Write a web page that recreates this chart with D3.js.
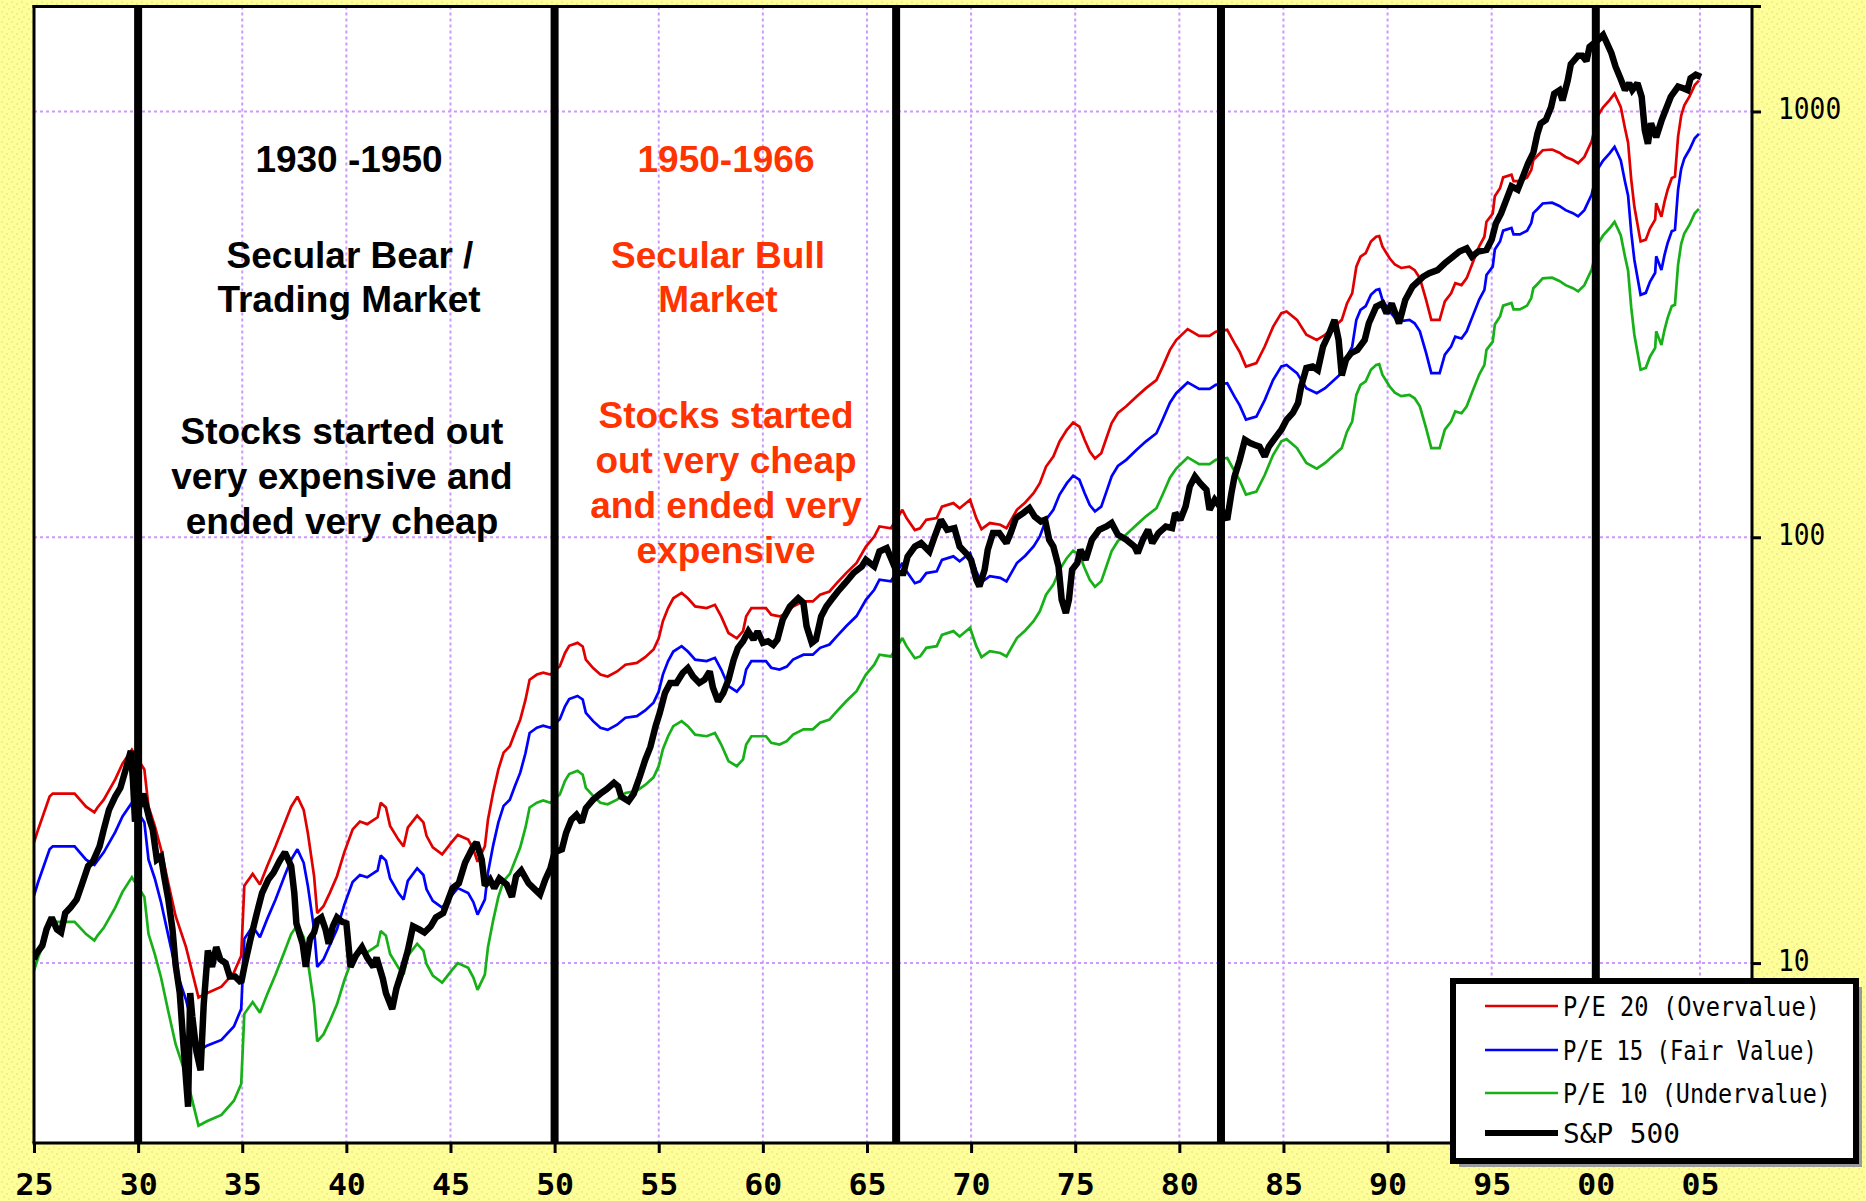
<!DOCTYPE html>
<html><head><meta charset="utf-8">
<script src="https://cdn.jsdelivr.net/npm/d3@7"></script>
<style>html,body{margin:0;padding:0;background:#FFFF99;} svg{display:block}</style>
</head><body>
<svg id="chart" width="1866" height="1201"></svg>
<script>
// ---------------- DATA ----------------
const peYears = [1925.0,1925.2,1925.75,1925.9,1926.95,1927.5,1927.9,1928.05,1928.35,1928.9,1929.25,1929.7,1930.3,1930.5,1930.8,1931.1,1931.45,1931.8,1932.3,1932.65,1932.9,1933.3,1934.0,1934.6,1934.95,1935.1,1935.5,1935.85,1936.2,1936.6,1937.05,1937.35,1937.65,1937.95,1938.15,1938.45,1938.6,1938.9,1939.2,1939.55,1939.9,1940.3,1940.65,1941.0,1941.5,1941.65,1941.9,1942.1,1942.5,1942.75,1942.95,1943.4,1943.7,1943.85,1944.15,1944.6,1945.05,1945.35,1945.85,1946.1,1946.3,1946.65,1946.8,1947.05,1947.3,1947.55,1947.85,1948.1,1948.35,1948.6,1948.8,1949.15,1949.45,1949.8,1950.25,1950.5,1950.7,1951.1,1951.35,1951.5,1951.85,1952.2,1952.55,1953.0,1953.4,1953.95,1954.35,1954.75,1955.0,1955.2,1955.45,1955.7,1956.1,1956.4,1956.75,1957.3,1957.7,1958.0,1958.35,1958.75,1959.05,1959.2,1959.45,1960.15,1960.4,1960.8,1961.15,1961.45,1961.95,1962.4,1962.75,1963.2,1963.55,1964.0,1964.5,1964.95,1965.35,1965.6,1966.15,1966.7,1966.9,1967.3,1967.55,1967.85,1968.35,1968.6,1969.15,1969.45,1969.95,1970.25,1970.5,1970.9,1971.4,1971.7,1972.2,1972.6,1973.0,1973.3,1973.6,1973.95,1974.25,1974.6,1974.9,1975.2,1975.45,1975.7,1975.95,1976.25,1976.5,1976.75,1977.05,1977.45,1977.95,1978.4,1978.9,1979.2,1979.55,1979.85,1980.4,1980.95,1981.45,1981.75,1982.3,1982.65,1982.9,1983.2,1983.7,1984.1,1984.5,1984.9,1985.15,1985.65,1986.1,1986.6,1987.0,1987.8,1988.05,1988.3,1988.5,1988.7,1988.95,1989.2,1989.45,1989.6,1989.75,1990.1,1990.35,1990.65,1991.05,1991.3,1991.55,1991.85,1992.1,1992.5,1992.75,1993.05,1993.25,1993.55,1993.8,1993.95,1994.1,1994.4,1994.65,1994.75,1995.05,1995.15,1995.4,1995.55,1995.95,1996.05,1996.35,1996.7,1996.9,1997.0,1997.2,1997.45,1997.9,1998.25,1998.55,1998.9,1999.15,1999.45,1999.8,2000.1,2000.35,2000.65,2000.9,2001.05,2001.2,2001.4,2001.55,2001.7,2001.85,2002.05,2002.15,2002.4,2002.6,2002.85,2002.9,2003.15,2003.3,2003.45,2003.65,2003.8,2003.95,2004.1,2004.25,2004.5,2004.75,2004.95];

const pe20 = [19.2,20.6,24.6,25.0,25.0,23.3,22.6,23.2,24.2,27.0,29.4,31.7,28.5,23.3,21.0,18.5,15.4,12.9,10.9,9.3,8.3,8.5,8.8,9.5,10.4,15.2,16.2,15.3,16.9,18.8,21.4,23.3,24.6,22.9,20.2,16.0,13.1,13.6,14.6,16.0,18.2,20.6,21.5,21.2,22.0,23.8,23.2,21.0,19.5,18.8,20.8,22.2,21.4,19.9,18.7,18.0,19.2,20.0,19.5,18.5,17.3,18.8,21.7,25.2,28.5,31.2,32.3,34.8,37.3,41.5,46.3,47.6,48.1,47.6,49.8,53.5,55.6,56.5,55.4,51.6,49.3,47.6,47.1,48.4,50.2,50.7,52.3,54.5,57.9,63.5,68.2,71.9,74.0,71.9,68.8,68.2,69.4,65.2,59.6,57.9,60.2,65.2,68.2,68.2,65.8,65.2,66.3,68.8,70.7,70.7,73.3,74.6,78.0,82.4,87.0,95.1,100.4,106,105,116,110.9,104,105,109.9,110.9,118,120.3,117,122.5,110.9,104.5,108,107,105,116,120.7,126.9,134,146.6,154.8,167.9,178.8,186,182,169.4,159,153,157.6,171,185.5,195.9,203,214,224,234,251.7,275.5,290.6,308.2,297,297,304,307,285.7,272.4,251.7,256.4,280.5,312,336,339,324,298.9,290.6,298.9,324,354,374,432,456,465,495,508,510,482,452,437,429,432,424,406,361,324,324,358,374,395,391,406,424,443,482,508,551,576,632,660,700,710,686,686,700,729,769,787,811,814,800,782,769,756,782,851,978,1023,1062,1101,1062,1023,913,845,693,598,527,495,500,531,557,609,566,614,655,698,703,873,978,1034,1085,1153,1181];

const pe15 = [14.4,15.5,18.5,18.8,18.8,17.5,17.0,17.4,18.2,20.3,22.1,23.8,21.4,17.5,15.8,13.9,11.6,9.7,8.2,7.0,6.2,6.4,6.6,7.1,7.8,11.4,12.2,11.5,12.7,14.1,16.1,17.5,18.5,17.2,15.2,12.0,9.8,10.2,11.0,12.0,13.7,15.5,16.1,15.9,16.5,17.9,17.4,15.8,14.6,14.1,15.6,16.7,16.1,14.9,14.0,13.5,14.4,15.0,14.6,13.9,13.0,14.1,16.3,18.9,21.4,23.4,24.2,26.1,28.0,31.1,34.7,35.7,36.1,35.7,37.4,40.1,41.7,42.4,41.6,38.7,37.0,35.7,35.3,36.3,37.7,38.0,39.2,40.9,43.4,47.6,51.2,53.9,55.5,53.9,51.6,51.2,52.1,48.9,44.7,43.4,45.2,48.9,51.2,51.2,49.4,48.9,49.7,51.6,53.0,53.0,55.0,56.0,58.5,61.8,65.3,71.3,75.3,79.5,78.8,87.0,83.2,78.0,78.8,82.4,83.2,88.5,90.2,87.8,91.9,83.2,78.4,81.0,80.3,78.8,87.0,90.5,95.2,100.5,110,116,126,134,139.5,136.5,127,119,115,118,128,139,147,152,160.5,168,175.5,189,207,218,231,223,223,228,230,214,204,189,192,210,234,252,254,243,224,218,224,243,265.5,280.5,324,342,349,371,381,382.5,361.5,339,328,322,324,318,304.5,271,243,243,268.5,280.5,296,293,304.5,318,332,361.5,381,413,432,474,495,525,532.5,514.5,514.5,525,547,577,590,608,610.5,600,586.5,577,567,586.5,638,733.5,767,796.5,826,796.5,767,685,634,520,448.5,395,371,375,398,418,457,424.5,460.5,491,523.5,527,655,733.5,775.5,814,865,886];

const pe10 = [9.6,10.3,12.3,12.5,12.5,11.7,11.3,11.6,12.1,13.5,14.7,15.9,14.3,11.7,10.5,9.25,7.7,6.45,5.45,4.65,4.15,4.25,4.4,4.75,5.2,7.6,8.1,7.65,8.45,9.4,10.7,11.7,12.3,11.5,10.1,8.0,6.55,6.8,7.3,8.0,9.1,10.3,10.8,10.6,11.0,11.9,11.6,10.5,9.75,9.4,10.4,11.1,10.7,9.95,9.35,9.0,9.6,10.0,9.75,9.25,8.65,9.4,10.9,12.6,14.3,15.6,16.2,17.4,18.7,20.8,23.2,23.8,24.1,23.8,24.9,26.8,27.8,28.3,27.7,25.8,24.7,23.8,23.6,24.2,25.1,25.4,26.2,27.3,29.0,31.8,34.1,36.0,37.0,36.0,34.4,34.1,34.7,32.6,29.8,29.0,30.1,32.6,34.1,34.1,32.9,32.6,33.2,34.4,35.4,35.4,36.7,37.3,39.0,41.2,43.5,47.6,50.2,53.0,52.5,58.0,55.5,52.0,52.5,55.0,55.5,59.0,60.2,58.5,61.3,55.5,52.3,54.0,53.5,52.5,58.0,60.4,63.5,67.0,73.3,77.4,84.0,89.4,93.0,91.0,84.7,79.5,76.5,78.8,85.5,92.8,98.0,101.5,107,112,117,126,138,145,154,148.5,148.5,152,153.5,143,136,126,128,140,156,168,170,162,149.5,145,149.5,162,177,187,216,228,232.5,247.5,254,255,241,226,218.5,214.5,216,212,203,180.5,162,162,179,187,197.5,195.5,203,212,221.5,241,254,275.5,288,316,330,350,355,343,343,350,364.5,384.5,393.5,405.5,407,400,391,384.5,378,391,425.5,489,511.5,531,550.5,531,511.5,456.5,422.5,346.5,299,263.5,247.5,250,265.5,278.5,304.5,283,307,327.5,349,351.5,436.5,489,517,542.5,576.5,590.5];

const spYears = [1925.0,1925.1,1925.4,1925.6,1925.85,1926.1,1926.3,1926.5,1926.75,1927.05,1927.3,1927.6,1927.85,1928.15,1928.35,1928.6,1928.9,1929.15,1929.45,1929.65,1929.75,1929.85,1930.0,1930.25,1930.55,1930.7,1930.9,1931.1,1931.25,1931.45,1931.65,1931.8,1932.0,1932.2,1932.4,1932.5,1932.6,1932.8,1933.0,1933.15,1933.35,1933.55,1933.75,1933.95,1934.2,1934.4,1934.65,1934.95,1935.1,1935.4,1935.7,1935.95,1936.25,1936.5,1936.8,1937.05,1937.35,1937.5,1937.6,1937.9,1938.05,1938.25,1938.45,1938.6,1938.8,1939.0,1939.15,1939.35,1939.55,1939.8,1940.0,1940.2,1940.45,1940.75,1941.0,1941.3,1941.45,1941.75,1941.9,1942.2,1942.4,1942.65,1942.95,1943.2,1943.5,1943.75,1944.05,1944.3,1944.65,1945.1,1945.4,1945.7,1946.1,1946.25,1946.5,1946.65,1946.9,1947.1,1947.35,1947.7,1947.95,1948.15,1948.4,1948.75,1949.05,1949.3,1949.55,1949.8,1950.0,1950.35,1950.55,1950.8,1951.05,1951.3,1951.5,1951.85,1952.2,1952.5,1952.85,1953.05,1953.2,1953.55,1953.8,1954.1,1954.35,1954.6,1954.85,1955.05,1955.3,1955.55,1955.85,1956.15,1956.4,1956.65,1956.95,1957.2,1957.45,1957.6,1957.85,1958.1,1958.35,1958.6,1958.8,1959.05,1959.3,1959.55,1959.75,1960.0,1960.25,1960.5,1960.7,1960.95,1961.3,1961.7,1961.95,1962.1,1962.35,1962.55,1962.8,1963.05,1963.3,1963.6,1963.95,1964.35,1964.75,1964.95,1965.35,1965.6,1965.95,1966.15,1966.45,1966.75,1966.95,1967.3,1967.6,1968.0,1968.25,1968.55,1968.85,1969.2,1969.45,1969.75,1970.0,1970.25,1970.4,1970.65,1970.8,1971.05,1971.35,1971.7,1971.9,1972.15,1972.5,1972.8,1973.05,1973.35,1973.55,1973.75,1973.95,1974.2,1974.35,1974.55,1974.7,1974.85,1975.1,1975.25,1975.5,1975.8,1976.15,1976.5,1976.75,1977.05,1977.45,1977.85,1978.0,1978.25,1978.5,1978.7,1979.0,1979.35,1979.65,1979.8,1980.05,1980.3,1980.5,1980.75,1981.0,1981.3,1981.45,1981.7,1981.95,1982.3,1982.5,1982.65,1982.9,1983.15,1983.4,1983.6,1983.85,1984.1,1984.3,1984.65,1984.9,1985.15,1985.45,1985.7,1985.85,1986.1,1986.4,1986.65,1986.9,1987.2,1987.45,1987.65,1987.8,1988.0,1988.25,1988.55,1988.9,1989.1,1989.45,1989.75,1989.95,1990.2,1990.55,1990.85,1991.2,1991.7,1992.0,1992.4,1992.75,1993.05,1993.45,1993.8,1994.05,1994.35,1994.75,1995.0,1995.2,1995.45,1995.7,1995.95,1996.25,1996.5,1996.75,1997.0,1997.2,1997.35,1997.6,1997.85,1998.0,1998.25,1998.4,1998.65,1998.8,1999.15,1999.35,1999.55,1999.7,2000.1,2000.35,2000.5,2000.75,2000.95,2001.15,2001.4,2001.6,2001.75,2002.0,2002.2,2002.35,2002.5,2002.65,2002.9,2003.15,2003.35,2003.6,2003.95,2004.2,2004.4,2004.55,2004.8,2005.05];

const sp500 = [10.2,10.5,11.0,12.0,12.8,12.0,11.8,13.1,13.5,14.1,15.3,16.9,17.4,18.8,20.6,22.9,24.6,25.8,29.0,31.5,27.0,21.5,22.8,25.0,21.7,20.6,17.5,17.8,16.0,14.1,12.0,9.9,8.5,6.2,4.6,8.5,7.5,6.2,5.6,8.0,10.7,9.8,10.9,10.2,10.0,9.3,9.3,9.0,9.8,11.4,13.1,14.6,15.7,16.3,17.4,18.2,16.9,14.6,12.4,11.1,9.8,11.4,11.8,12.6,12.8,12.0,11.1,12.2,12.8,12.5,12.4,9.8,10.4,10.9,10.3,9.8,10.3,9.2,8.5,7.8,8.7,9.5,10.7,12.2,12.0,11.8,12.2,12.8,13.1,15.0,15.4,17.2,18.8,19.2,17.5,15.2,15.7,15.0,15.8,15.3,14.3,16.0,16.5,15.4,14.9,14.5,15.7,16.7,18.2,18.5,20.2,21.7,22.3,21.4,23.1,24.2,25.0,25.6,26.5,26.0,24.6,24.0,25.0,27.5,30.0,32.2,36.0,38.7,43.1,45.5,45.5,48.0,49.3,47.1,45.5,46.3,48.4,44.4,41.2,43.1,46.3,51.6,54.9,57.0,60.1,57.5,60.1,56.5,57.0,55.9,57.5,64.0,68.8,71.9,70.1,61.8,56.5,57.5,65.2,68.8,71.4,74.6,78.0,82.4,85.4,88.5,85.4,92.6,94.3,89.4,82.4,82.4,90.1,95.1,96.9,92.6,100.4,109.9,104.1,105.1,95.1,91.8,88.5,79.5,76.7,83.9,93.5,102.3,102.3,96.9,102.3,110.9,114.0,117.1,111.9,108.9,109.9,98.7,95.1,85.4,71.4,66.4,71.4,83.9,87.0,93.5,88.5,98.7,104.1,106.0,108.0,101.4,98.7,95.1,91.8,98.7,104.1,96.9,102.3,106.0,105.1,114.0,109.9,118.1,131.6,138.9,134.0,129.3,116.0,122.5,118.1,109.9,126.9,138.9,152,169.4,166.5,164.9,163.3,154.8,163.3,172.3,178.8,188.7,195.9,206.6,226,249.7,251.7,247,280.5,301.3,324,290.6,240,261,270.9,275.5,290.6,318.2,348,354,336,354,318,361,388,409,417,424,440,452,469,477,456,469,473,500,546,576,620,667,655,703,756,800,888,937,955,1023,1101,1121,1062,1182,1291,1352,1352,1313,1419,1472,1512,1458,1370,1274,1207,1123,1165,1123,1165,1083,905,840,938,870,950,1008,1083,1144,1134,1123,1197,1220,1205];

const eraYears = [1930, 1950, 1966.4, 1982, 2000];
const xTickYears = [1925,1930,1935,1940,1945,1950,1955,1960,1965,1970,1975,1980,1985,1990,1995,2000,2005];
const xTickLabels = ["25","30","35","40","45","50","55","60","65","70","75","80","85","90","95","00","05"];
const yTickValues = [10, 100, 1000];
const yTickLabels = ["10", "100", "1000"];
const legendLabels = ["P/E 20 (Overvalue)", "P/E 15 (Fair Value)", "P/E 10 (Undervalue)", "S&P 500"];
const blackNotes = ["1930 -1950", "Secular Bear /", "Trading Market", "Stocks started out", "very expensive and", "ended very cheap"];
const redNotes = ["1950-1966", "Secular Bull", "Market", "Stocks started", "out very cheap", "and ended very", "expensive"];

// ---------------- LAYOUT ----------------
const W = 1866, H = 1201;
const M = {left: 34, right: 1752, top: 6.5, bottom: 1143};
const L = {x: 1453, y: 981, w: 403, h: 180};
const svg = d3.select('#chart');
const defs = svg.append('defs');

const pat = defs.append('pattern').attr('id', 'dither').attr('width', 10).attr('height', 10).attr('patternUnits', 'userSpaceOnUse');
pat.append('rect').attr('width', 10).attr('height', 10).attr('fill', '#FFFF99');
[[1,1],[6,3],[3,6],[8,8]].forEach(([a,b]) => pat.append('rect').attr('x', a).attr('y', b).attr('width', 2).attr('height', 2).attr('fill', '#F2EE8F'));
svg.append('rect').attr('width', W).attr('height', H).attr('fill', 'url(#dither)');

defs.append('clipPath').attr('id', 'clip').append('rect')
  .attr('x', M.left).attr('y', M.top).attr('width', M.right - M.left).attr('height', M.bottom - M.top);

const x = d3.scaleLinear().domain([1925, 2007.5]).range([M.left, M.right]);
const y = d3.scaleLog().domain([3.78, 1764]).range([M.bottom, M.top]);

// plot background
svg.append('rect').attr('x', M.left).attr('y', M.top).attr('width', M.right - M.left).attr('height', M.bottom - M.top).attr('fill', '#FFFFFF');

// grid
const grid = svg.append('g').attr('stroke', '#CC99FF').attr('stroke-width', 2).attr('stroke-dasharray', '3,3');
grid.selectAll('line.v').data(xTickYears.slice(1)).join('line').attr('class', 'v')
  .attr('x1', d => x(d)).attr('x2', d => x(d)).attr('y1', M.top).attr('y2', M.bottom);
grid.selectAll('line.h').data(yTickValues).join('line').attr('class', 'h')
  .attr('x1', M.left).attr('x2', M.right).attr('y1', d => y(d)).attr('y2', d => y(d));

// series
const plot = svg.append('g').attr('clip-path', 'url(#clip)');
const line = d3.line().x(d => x(d[0])).y(d => y(d[1]));
const series = [
  {vals: pe10, yrs: peYears, color: '#18B018', w: 2.7},
  {vals: pe15, yrs: peYears, color: '#0000FF', w: 2.7},
  {vals: pe20, yrs: peYears, color: '#E00000', w: 2.7},
  {vals: sp500, yrs: spYears, color: '#000000', w: 6.5}
];
series.forEach(s => {
  plot.append('path').datum(s.yrs.map((yr, i) => [yr, s.vals[i]]))
    .attr('d', line).attr('fill', 'none').attr('stroke', s.color).attr('stroke-width', s.w)
    .attr('stroke-linejoin', 'miter').attr('stroke-miterlimit', 2);
});

// era separators
plot.selectAll('line.era').data(eraYears).join('line').attr('class', 'era')
  .attr('x1', d => x(d)).attr('x2', d => x(d)).attr('y1', M.top).attr('y2', M.bottom)
  .attr('stroke', '#000').attr('stroke-width', 8);

// annotations
const notePos = {black: [[349,172],[350,268],[349,312],[342,444],[342,489],[342,534]],
                 red: [[726,172],[718,268],[718,312],[726,428],[726,473],[726,518],[726,563]]};
const noteFont = "'Liberation Sans', Arial, sans-serif";
svg.append('g').selectAll('text').data(blackNotes).join('text')
  .attr('x', (d, i) => notePos.black[i][0]).attr('y', (d, i) => notePos.black[i][1])
  .attr('text-anchor', 'middle').attr('font-family', noteFont).attr('font-weight', 'bold')
  .attr('font-size', 37).attr('fill', '#000').text(d => d);
svg.append('g').selectAll('text').data(redNotes).join('text')
  .attr('x', (d, i) => notePos.red[i][0]).attr('y', (d, i) => notePos.red[i][1])
  .attr('text-anchor', 'middle').attr('font-family', noteFont).attr('font-weight', 'bold')
  .attr('font-size', 37).attr('fill', '#FF3300').text(d => d);

// frame: left and top
svg.append('line').attr('x1', M.left).attr('x2', M.left).attr('y1', M.top - 1.5).attr('y2', M.bottom).attr('stroke', '#000').attr('stroke-width', 3);
svg.append('line').attr('x1', M.left - 1.5).attr('x2', M.right + 9).attr('y1', M.top).attr('y2', M.top).attr('stroke', '#000').attr('stroke-width', 3);

// helper: squeeze a text horizontally to a target width using a transform
function fitWidth(sel, targetW) {
  sel.each(function(d, i) {
    const t = d3.select(this);
    const tw = typeof targetW === 'function' ? targetW(d, i) : targetW;
    const nat = this.getComputedTextLength();
    const ax = +t.attr('x') || 0, ay = +t.attr('y') || 0;
    const prev = t.attr('transform') || '';
    t.attr('x', 0).attr('y', 0)
     .attr('transform', `${prev} translate(${ax},${ay}) scale(${tw / nat},1)`);
  });
}

// axes
const monoFont = "'DejaVu Sans Mono', 'Liberation Mono', monospace";
const xAxis = d3.axisBottom(x).tickValues(xTickYears).tickFormat((d, i) => xTickLabels[i]).tickSize(10).tickSizeOuter(0).tickPadding(0);
const gx = svg.append('g').attr('transform', `translate(0,${M.bottom})`).call(xAxis);
gx.select('.domain').remove();
gx.selectAll('.tick line').attr('stroke', '#000').attr('stroke-width', 3);
const xt = gx.selectAll('.tick text').attr('y', 52).attr('dy', null).attr('fill', '#000')
  .attr('font-family', monoFont).attr('font-weight', 'bold').attr('font-size', 30);
fitWidth(xt, 38);
svg.append('line').attr('x1', M.left - 1.5).attr('x2', L.x).attr('y1', M.bottom).attr('y2', M.bottom).attr('stroke', '#000').attr('stroke-width', 3);

const yAxis = d3.axisRight(y).tickValues(yTickValues).tickFormat((d, i) => yTickLabels[i]).tickSize(9).tickSizeOuter(0).tickPadding(17);
const gy = svg.append('g').attr('transform', `translate(${M.right},0)`).call(yAxis);
gy.select('.domain').remove();
gy.selectAll('.tick line').attr('stroke', '#000').attr('stroke-width', 3);
const yt = gy.selectAll('.tick text').attr('dy', null).attr('y', 7).attr('fill', '#000')
  .attr('font-family', monoFont).attr('font-size', 31);
fitWidth(yt, (d, i) => yTickLabels[i].length * 15.8);
svg.append('line').attr('x1', M.right).attr('x2', M.right).attr('y1', M.top - 1.5).attr('y2', L.y - 3).attr('stroke', '#000').attr('stroke-width', 3);

// legend
const lg = svg.append('g');
lg.append('rect').attr('x', L.x + 6).attr('y', L.y + 6).attr('width', L.w).attr('height', L.h).attr('fill', '#9a9a9a');
lg.append('rect').attr('x', L.x).attr('y', L.y).attr('width', L.w).attr('height', L.h).attr('fill', '#fff').attr('stroke', '#000').attr('stroke-width', 6);
const legColors = ['#E00000', '#0000FF', '#18B018', '#000000'];
const legWidths = [2.7, 2.7, 2.7, 6];
const legRowY = [1006, 1050, 1093, 1133];
const legTextLen = [257, 254, 268, 117];
legendLabels.forEach((lab, i) => {
  lg.append('line').attr('x1', 1485).attr('x2', 1558).attr('y1', legRowY[i]).attr('y2', legRowY[i])
    .attr('stroke', legColors[i]).attr('stroke-width', legWidths[i]);
  const t = lg.append('text').attr('x', 1563).attr('y', legRowY[i] + 10).attr('font-family', monoFont).attr('font-size', 27)
    .attr('fill', '#000').text(lab);
  fitWidth(t, legTextLen[i]);
});
</script>
</body></html>
